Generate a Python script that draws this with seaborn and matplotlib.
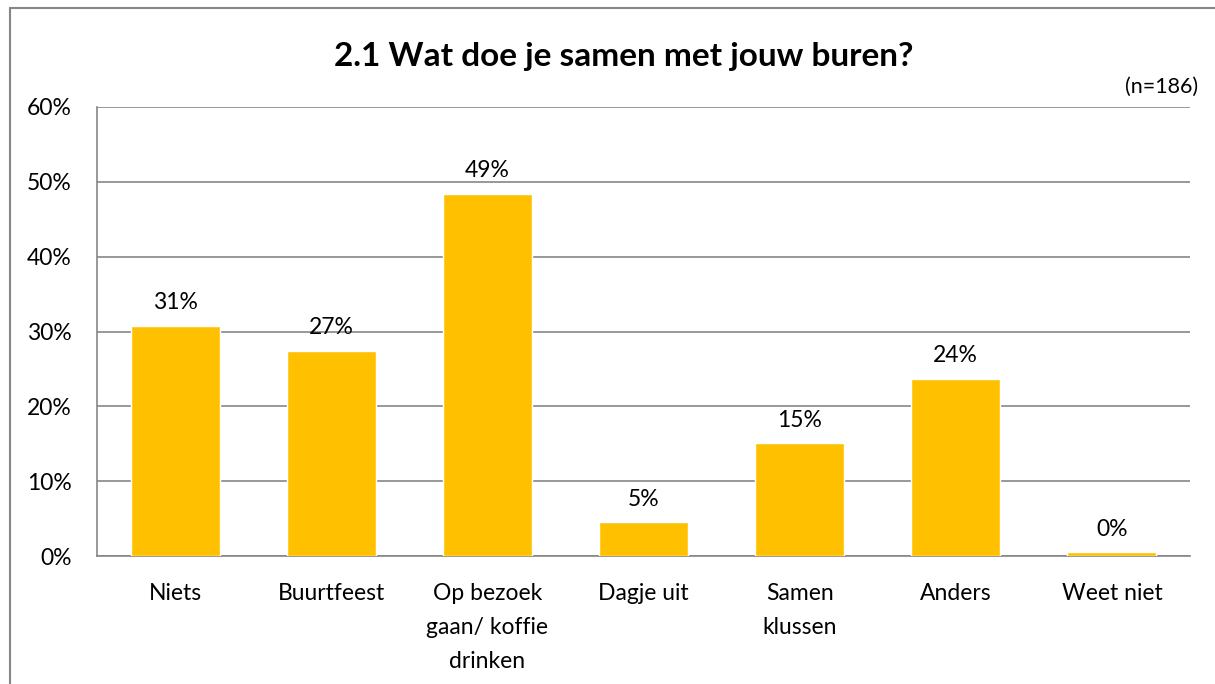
import matplotlib
matplotlib.use("Agg")
import matplotlib.pyplot as plt
import seaborn as sns
import pandas as pd
from matplotlib.lines import Line2D
from matplotlib.ticker import FixedLocator, PercentFormatter

categories = ["Niets", "Buurtfeest", "Op bezoek\ngaan/ koffie\ndrinken", "Dagje uit",
              "Samen\nklussen", "Anders", "Weet niet"]
values = [30.8, 27.4, 48.4, 4.5, 15.1, 23.7, 0.5]
labels = ["31%", "27%", "49%", "5%", "15%", "24%", "0%"]
title = "2.1 Wat doe je samen met jouw buren?"
note = "(n=186)"

sns.set_theme(style="white")
plt.rcParams['font.family'] = ['Lato', 'DejaVu Sans']
plt.rcParams['text.color'] = 'black'

df = pd.DataFrame({"cat": categories, "val": values})

fig = plt.figure(figsize=(12.15, 6.84), dpi=100)
ax = fig.add_axes([0.0798, 0.187, 0.8996, 0.6566])

sns.barplot(data=df, x="cat", y="val", color="#FFC000", saturation=1, width=0.57, ax=ax, zorder=3)

FS = 16.5
ax.set_ylim(0, 60)
ax.set_xlim(-0.5, len(categories) - 0.5)
ax.set_yticks(range(0, 61, 10))
ax.yaxis.set_major_formatter(PercentFormatter(decimals=0))
ax.grid(axis="y", color="#868686", linewidth=1.2, zorder=0)
ax.set_axisbelow(True)

ax.set_xticks([i for i in range(len(categories))])
ax.set_xticklabels(categories, fontsize=FS, linespacing=1.77, color="black")
ax.tick_params(axis="x", which="major", length=0, pad=19.5)
ax.xaxis.set_minor_locator(FixedLocator([i - 0.5 for i in range(len(categories) + 1)]))
ax.tick_params(axis="x", which="minor", length=8, width=1.2, color="#868686", direction="out")
ax.tick_params(axis="y", length=8, width=1.2, color="#868686", direction="out", pad=10,
               labelsize=FS, labelcolor="black")

for s in ["top", "right"]:
    ax.spines[s].set_visible(False)
for s in ["left", "bottom"]:
    ax.spines[s].set_color("#868686")
    ax.spines[s].set_linewidth(1.2)

ax.set_xlabel("")
ax.set_ylabel("")

for i, (v, lab) in enumerate(zip(values, labels)):
    ax.annotate(lab, xy=(i, v), xytext=(0, 9), textcoords="offset points",
                ha="center", va="bottom", fontsize=FS, color="black")

fig.text(0.513, 0.918, title, ha="center", va="center", fontsize=24, fontweight="bold", color="black")
fig.text(0.986, 0.873, note, ha="right", va="center", fontsize=15.5, color="black")

x0 = 9.5 / 1215
y0 = 1 - 7.5 / 684
fig.lines.append(Line2D([x0, x0], [0, y0], transform=fig.transFigure, color="#868686", linewidth=1.5))
fig.lines.append(Line2D([x0, 1], [y0, y0], transform=fig.transFigure, color="#868686", linewidth=1.5))

fig.savefig("out.png", dpi=100)
